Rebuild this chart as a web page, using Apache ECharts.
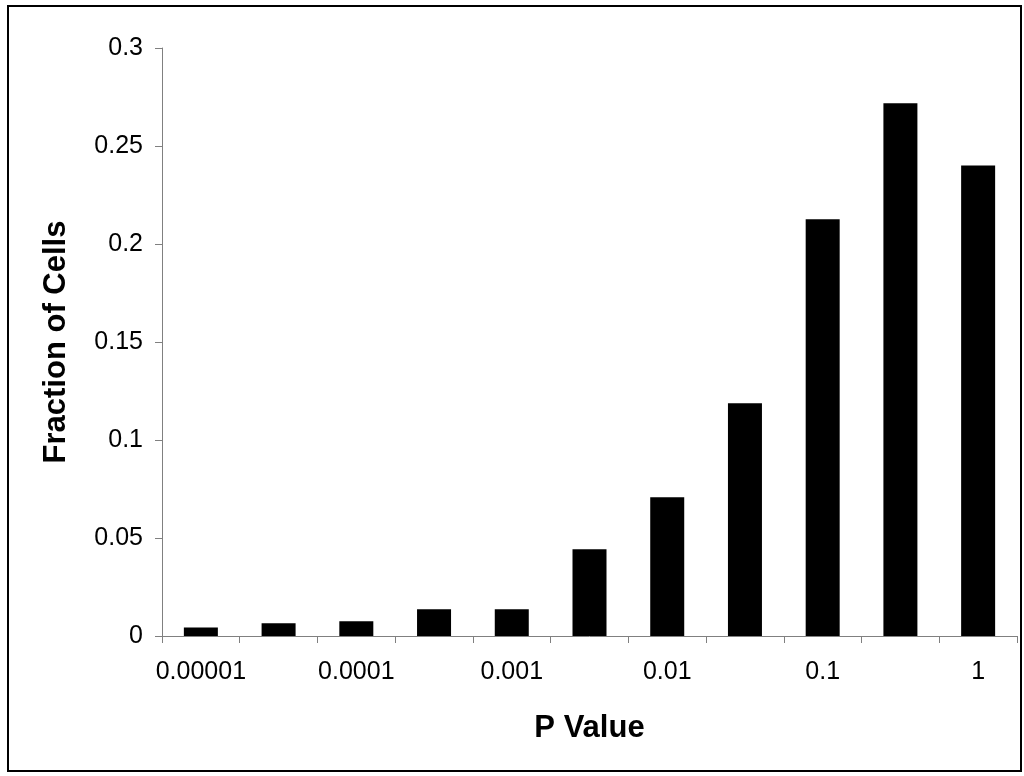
<!DOCTYPE html>
<html>
<head>
<meta charset="utf-8">
<script src="https://cdn.jsdelivr.net/npm/echarts@6/dist/echarts.min.js"></script>
<style>
  html, body { margin: 0; padding: 0; background: #fff; }
  #chart { width: 1024px; height: 776px; }
</style>
</head>
<body>
<div id="chart"></div>
<script>
// categories (p value bins), only every other one is labelled
const pValues = ['0.00001', '', '0.0001', '', '0.001', '', '0.01', '', '0.1', '', '1']
// fraction of cells per bin
const fractions = [0.0044, 0.0065, 0.0075, 0.0136, 0.0136, 0.0442, 0.0708, 0.1187, 0.2126, 0.2718, 0.2401]
const yTicks = { min: 0, max: 0.3, interval: 0.05 }

const font = 'Liberation Sans, Arial, sans-serif'
const axisGray = '#808080'

const myChart = echarts.init(document.getElementById('chart'))
myChart.setOption({
  animation: false,
  backgroundColor: '#fff',
  grid: {
    left: 162,
    right: 7,
    top: 48,
    bottom: 140
  },
  // outer frame around the whole chart
  graphic: [{
    type: 'rect',
    shape: { x: 8, y: 6, width: 1013, height: 765 },
    style: { fill: 'none', stroke: '#000', lineWidth: 2 },
    silent: true
  }],
  xAxis: {
    type: 'category',
    data: pValues,
    name: 'P Value',
    nameLocation: 'middle',
    nameGap: 77,
    nameTextStyle: { fontFamily: font, fontSize: 31, fontWeight: 'bold', color: '#000' },
    axisLine: { lineStyle: { color: axisGray, width: 1 } },
    axisTick: { show: true, interval: 0, length: 7, lineStyle: { color: axisGray } },
    axisLabel: { interval: 0, margin: 24, fontFamily: font, fontSize: 25, color: '#000' },
    splitLine: { show: false }
  },
  yAxis: {
    type: 'value',
    min: yTicks.min,
    max: yTicks.max,
    interval: yTicks.interval,
    name: 'Fraction of Cells',
    nameLocation: 'middle',
    nameGap: 90,
    nameTextStyle: { fontFamily: font, fontSize: 31, fontWeight: 'bold', color: '#000' },
    axisLine: { show: true, lineStyle: { color: axisGray, width: 1 } },
    axisTick: { show: true, length: 7, lineStyle: { color: axisGray } },
    axisLabel: {
      margin: 19,
      fontFamily: font,
      fontSize: 25,
      color: '#000',
      formatter: v => String(+v.toFixed(2))
    },
    splitLine: { show: false }
  },
  series: [{
    type: 'bar',
    data: fractions,
    barWidth: 34,
    itemStyle: { color: '#000' }
  }]
})
</script>
</body>
</html>
